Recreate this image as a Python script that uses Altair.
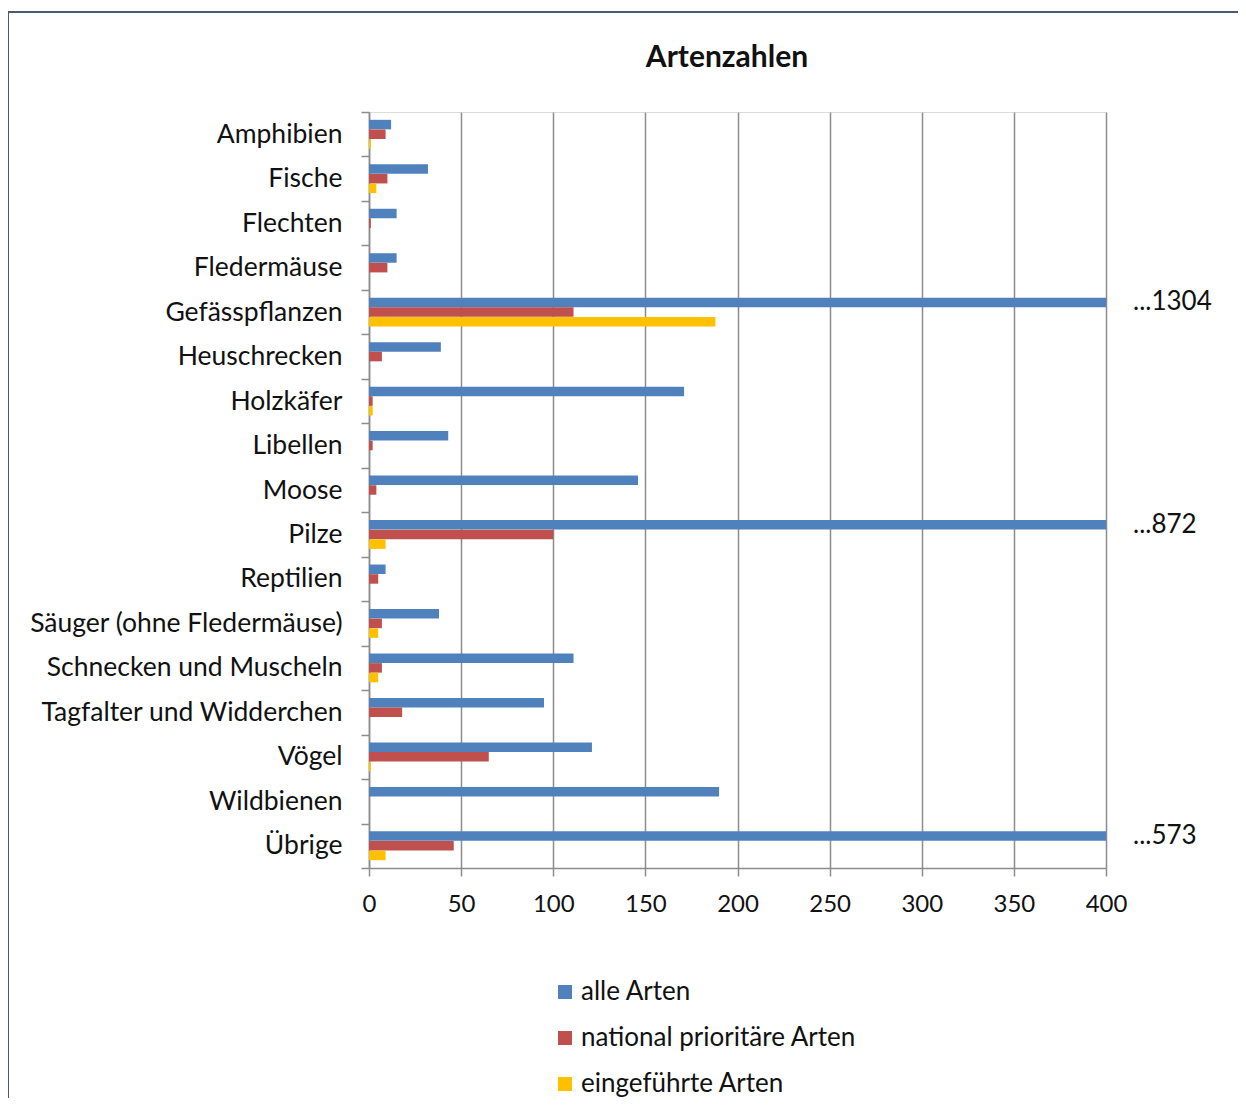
import altair as alt
import pandas as pd

categories = ["Amphibien", "Fische", "Flechten", "Fledermäuse", "Gefässpflanzen",
              "Heuschrecken", "Holzkäfer", "Libellen", "Moose", "Pilze", "Reptilien",
              "Säuger (ohne Fledermäuse)", "Schnecken und Muscheln",
              "Tagfalter und Widderchen", "Vögel", "Wildbienen", "Übrige"]
series = ["alle Arten", "national prioritäre Arten", "eingeführte Arten"]
alle = [12, 32, 15, 15, 1304, 39, 171, 43, 146, 872, 9, 38, 111, 95, 121, 190, 573]
national = [9, 10, 1, 10, 111, 7, 2, 2, 4, 100, 5, 7, 7, 18, 65, 0, 46]
eingefuehrt = [1, 4, 0, 0, 188, 0, 2, 0, 0, 9, 0, 5, 5, 0, 1, 0, 9]
colors = ["#4F81BD", "#C0504D", "#FFC000"]
x_max = 400
title_text = "Artenzahlen"

rows = []
for vals, s in zip([alle, national, eingefuehrt], series):
    for c, v in zip(categories, vals):
        rows.append({"Kategorie": c, "Serie": s, "Wert": v})
df = pd.DataFrame(rows)

ann = pd.DataFrame([{"Kategorie": c, "Serie": series[0], "Wert": x_max, "label": "..." + str(v)}
                    for c, v in zip(categories, alle) if v > x_max])

FONT = "Lato"
TXT = "#111111"
GRID = "#8c8c8c"

y_enc = alt.Y("Kategorie:N", sort=categories,
              scale=alt.Scale(paddingInner=0, paddingOuter=0),
              axis=alt.Axis(title=None, tickBand="extent", tickSize=8, tickColor=GRID,
                            tickWidth=1.5, domainColor=GRID, domainWidth=1.5,
                            labelFontSize=26.5, labelFont=FONT, labelColor=TXT,
                            labelPadding=19, labelLimit=0, grid=False))
yoff_enc = alt.YOffset("Serie:N", sort=series,
                       scale=alt.Scale(domain=series, paddingOuter=0.8, paddingInner=0))

bars = alt.Chart(df).mark_bar(clip=True, size=9.5).encode(
    x=alt.X("Wert:Q", scale=alt.Scale(domain=[0, x_max], nice=False),
            axis=alt.Axis(title=None, values=list(range(0, 401, 50)), grid=True,
                          gridColor=GRID, gridWidth=1.5, tickSize=8,
                          tickColor=GRID, tickWidth=1.5, domainColor=GRID,
                          domainWidth=1.5, labelFontSize=24, labelFont=FONT,
                          labelColor=TXT, labelPadding=16, labelFlush=False)),
    y=y_enc,
    yOffset=yoff_enc,
    color=alt.Color("Serie:N", sort=series,
                    scale=alt.Scale(domain=series, range=colors),
                    legend=alt.Legend(title=None, orient="none", legendX=183, legendY=867,
                                      direction="vertical", symbolType="square",
                                      symbolSize=196, symbolStrokeWidth=0,
                                      labelFontSize=26, labelFont=FONT,
                                      labelColor=TXT, labelOffset=3, labelLimit=0,
                                      rowPadding=20, padding=0)),
)

texts = alt.Chart(ann).mark_text(align="left", baseline="middle", dx=27,
                                 fontSize=26, font=FONT, color=TXT).encode(
    x=alt.X("Wert:Q"),
    y=alt.Y("Kategorie:N", sort=categories),
    yOffset=alt.YOffset("Serie:N", sort=series),
    text="label:N",
)

one = pd.DataFrame({"t": [title_text]})

title = alt.Chart(one).mark_text(fontSize=30, font=FONT, fontWeight="bold", color=TXT,
                                 align="center", baseline="middle", clip=False).encode(
    x=alt.value(358), y=alt.value(-54), text="t:N")

border = alt.Chart(one).mark_rect(
    fill=None, stroke="#4a5a70", strokeWidth=2, clip=False).encode(
    x=alt.value(-361), x2=alt.value(1000), y=alt.value(-100), y2=alt.value(1200))

chart = alt.layer(border, title, bars, texts).properties(
    width=737, height=756,
    autosize=alt.AutoSizeParams(type="none"),
    padding={"left": 361, "top": 104, "right": 132, "bottom": 230},
).configure_view(stroke=None).configure(background="white")

chart.save("out.html", embed_options={"renderer": "svg", "actions": False})
